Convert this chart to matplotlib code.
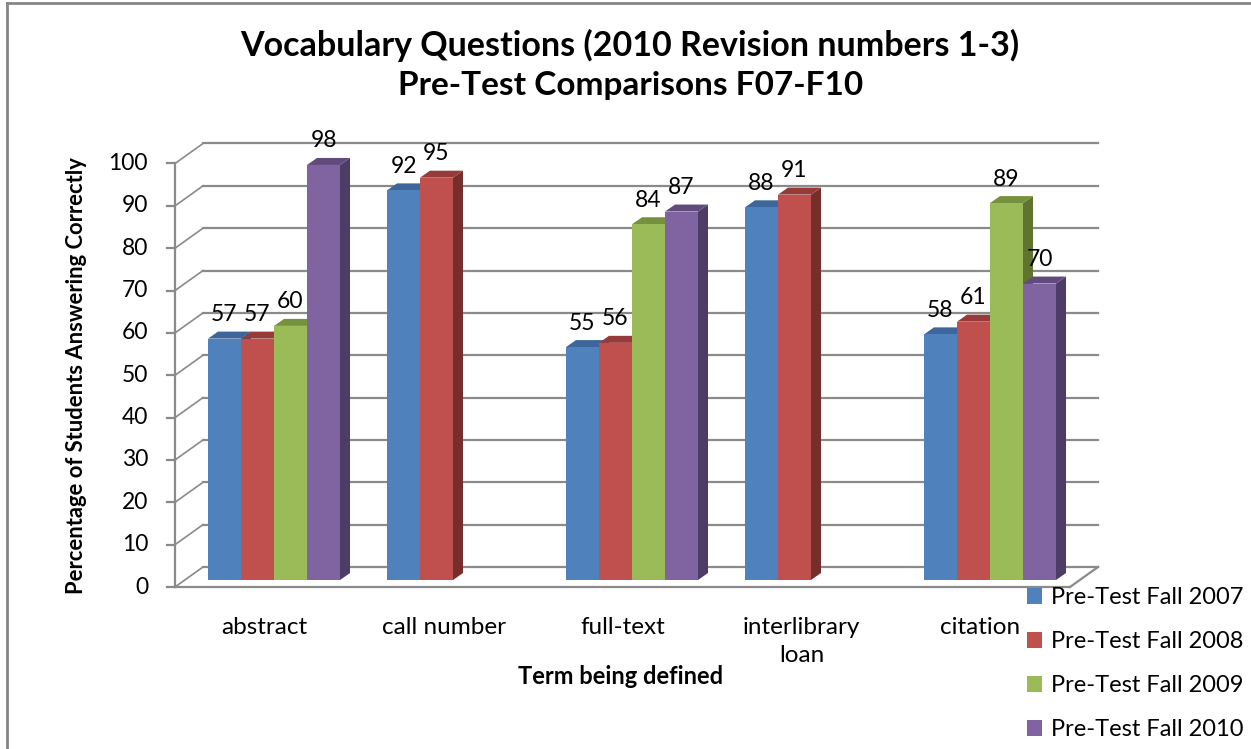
import matplotlib
matplotlib.use("Agg")
import matplotlib.pyplot as plt
from matplotlib.patches import Polygon, Patch
from matplotlib.lines import Line2D

categories = ["abstract", "call number", "full-text", "interlibrary\nloan", "citation"]
series_names = ["Pre-Test Fall 2007", "Pre-Test Fall 2008", "Pre-Test Fall 2009", "Pre-Test Fall 2010"]
fall_2007 = [57, 92, 55, 88, 58]
fall_2008 = [57, 95, 56, 91, 61]
fall_2009 = [60, None, 84, None, 89]
fall_2010 = [98, None, 87, None, 70]
y_ticks = list(range(0, 101, 10))

front_colors = ["#4F81BD", "#C0504D", "#9BBB59", "#8064A2"]
top_colors = ["#3D679A", "#963B39", "#76913D", "#614B7D"]
side_colors = ["#2F5284", "#762E2C", "#5E742F", "#4D3C66"]
grid_color = "#8a8a8a"

plt.rcParams['font.family'] = ['Lato', 'DejaVu Sans']

W, H = 1251, 749
fig = plt.figure(figsize=(W / 100, H / 100), dpi=100)
# axes = plane of the bar fronts (pixels 184.5..1079.5, bottom 580, 423.5 px tall)
ax = fig.add_axes([184.5 / W, (H - 580) / H, 895 / W, 423.5 / H])
ax.set_xlim(-0.5, 4.5)
ax.set_ylim(0, 100)
ax.axis("off")

sx = 895 / 5.0      # pixels per category unit
sy = 423.5 / 100.0  # pixels per percent


def px(dx, dy):
    return dx / sx, dy / sy


fx, fy = px(-9.5, -7)   # front plane (axis / floor edge)
bx, by = px(18.5, 13)   # back wall
dx, dy = px(10, 7)      # bar depth

# back wall gridlines and left wall
for v in y_ticks:
    ax.plot([-0.5 + bx, 4.5 + bx], [v + by, v + by], color=grid_color, lw=1.6,
            clip_on=False, zorder=1)
    ax.plot([-0.5 + fx, -0.5 + bx], [v + fy, v + by], color=grid_color, lw=1.2,
            clip_on=False, zorder=1)
    tx, _ = px(-8, 0)
    ax.plot([-0.5 + fx + tx, -0.5 + fx], [v + fy, v + fy], color=grid_color, lw=1.6,
            clip_on=False, zorder=2)
    lx, _ = px(-27, 0)
    ax.text(-0.5 + fx + lx, v + fy, str(v), ha="right", va="center", fontsize=16.5)

# front axis line and floor
ax.plot([-0.5 + fx, -0.5 + fx], [fy, 100 + fy], color=grid_color, lw=1.6, clip_on=False, zorder=2)
ax.plot([-0.5 + fx, 4.5 + fx], [fy, fy], color=grid_color, lw=1.6, clip_on=False, zorder=2)
ax.plot([4.5 + fx, 4.5 + bx], [fy, by], color=grid_color, lw=1.6, clip_on=False, zorder=2)

# bars
w = 33 / sx
series = [fall_2007, fall_2008, fall_2009, fall_2010]
for i in range(len(categories)):
    for k, vals in enumerate(series):
        v = vals[i]
        if v is None:
            continue
        x0 = i + (k - 2) * w
        x1 = x0 + w
        z = 3 + 0.01 * (i * 4 + k)
        ax.add_patch(Polygon([(x1, 0), (x1, v), (x1 + dx, v + dy), (x1 + dx, dy)],
                             closed=True, facecolor=side_colors[k], edgecolor="none",
                             zorder=z, clip_on=False))
        ax.add_patch(Polygon([(x0, v), (x1, v), (x1 + dx, v + dy), (x0 + dx, v + dy)],
                             closed=True, facecolor=top_colors[k], edgecolor="none",
                             zorder=z, clip_on=False))
        ax.bar(x0, v, width=w, align="edge", color=front_colors[k], zorder=z + 0.001,
               clip_on=False)
        ax.annotate(str(v), (x0 + w / 2, v), xytext=(0, 24), textcoords="offset pixels",
                    ha="center", va="center", fontsize=16.5, zorder=10,
                    annotation_clip=False)

# category labels on the front floor edge
for i, cat in enumerate(categories):
    ax.annotate(cat, (i + fx, fy), xytext=(0, -30), textcoords="offset pixels",
                ha="center", va="top", fontsize=17.5, linespacing=1.4,
                annotation_clip=False)

# titles
fig.text(629.5 / W, (H - 45) / H, "Vocabulary Questions (2010 Revision numbers 1-3)",
         ha="center", va="center", fontsize=24.5, fontweight="bold")
fig.text(631 / W, (H - 85) / H, "Pre-Test Comparisons F07-F10",
         ha="center", va="center", fontsize=24, fontweight="bold")
fig.text(77 / W, (H - 376) / H, "Percentage of Students Answering Correctly",
         rotation=90, ha="center", va="center", fontsize=15.8, fontweight="bold")
fig.text(621 / W, (H - 677) / H, "Term being defined",
         ha="center", va="center", fontsize=17, fontweight="bold")

# legend
handles = [Patch(facecolor=c, edgecolor="none") for c in front_colors]
fig.legend(handles, series_names, loc="upper left",
           bbox_to_anchor=(1027 / W, (H - 587) / H), frameon=False, fontsize=17,
           handlelength=0.65, handleheight=0.65, handletextpad=0.35, labelspacing=0.98,
           borderpad=0, borderaxespad=0)

# outer chart border
fig.add_artist(Line2D([7 / W, 7 / W], [0, (H - 3) / H], transform=fig.transFigure,
                      color="#868686", lw=2))
fig.add_artist(Line2D([7 / W, 1], [(H - 3) / H, (H - 3) / H], transform=fig.transFigure,
                      color="#868686", lw=2))

fig.savefig("out.png", dpi=100)
